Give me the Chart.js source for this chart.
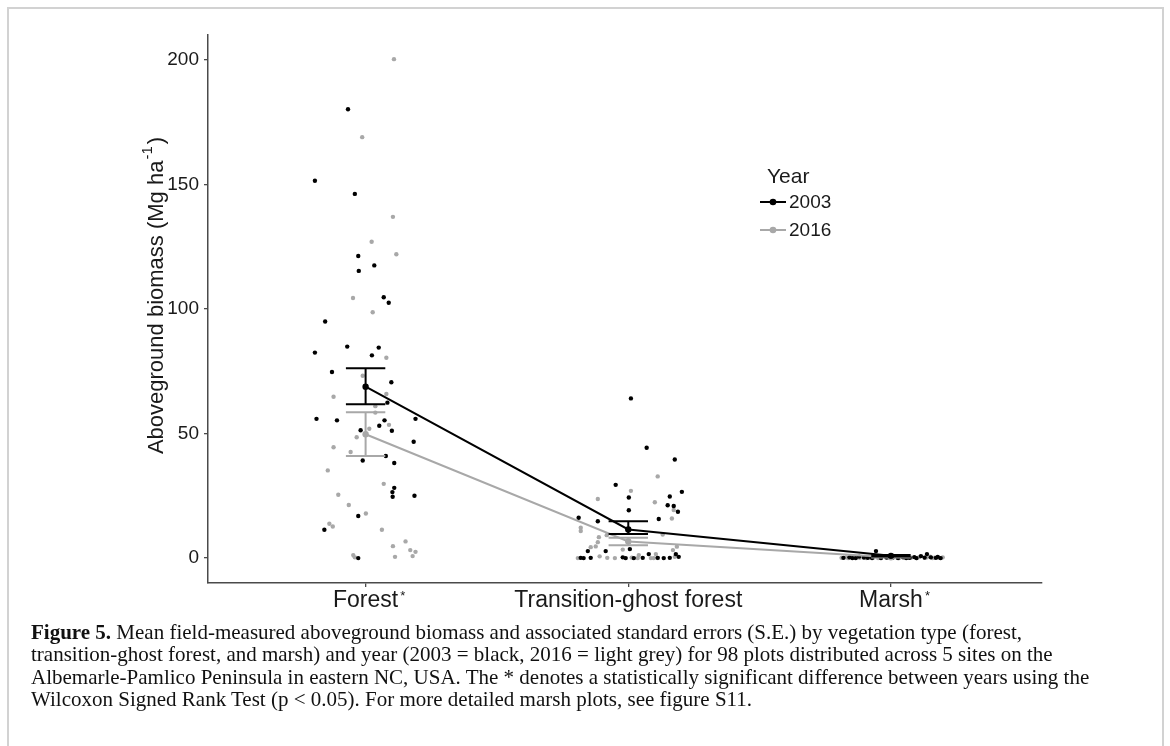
<!DOCTYPE html>
<html>
<head>
<meta charset="utf-8">
<script src="https://cdn.jsdelivr.net/npm/chart.js@4.4.1/dist/chart.umd.min.js"></script>
<style>
  html, body { margin: 0; padding: 0; background: #ffffff; }
  #page { position: relative; width: 1170px; height: 746px; overflow: hidden; background: #fff; }
  #frame { position: absolute; left: 7px; top: 7px; width: 1153px; height: 780px; border: 2px solid #d2d2d2; box-sizing: content-box; }
  #wrap { position: absolute; left: 0; top: 0; width: 1170px; height: 625px; }
  #caption {
    position: absolute; left: 31px; top: 621px; white-space: nowrap;
    font-family: "Liberation Serif", "Times New Roman", serif;
    font-size: 21px; line-height: 22.3px; color: #111;
  }
</style>
</head>
<body>
<div id="page">
  <div id="frame"></div>
  <div id="wrap"><canvas id="chart" width="1170" height="625"></canvas></div>
  <div id="caption">
    <b>Figure 5.</b> Mean field-measured aboveground biomass and associated standard errors (S.E.) by vegetation type (forest,<br>
    transition-ghost forest, and marsh) and year (2003 = black, 2016 = light grey) for 98 plots distributed across 5 sites on the<br>
    Albemarle-Pamlico Peninsula in eastern NC, USA. The * denotes a statistically significant difference between years using the<br>
    Wilcoxon Signed Rank Test (p &lt; 0.05). For more detailed marsh plots, see figure S11.
  </div>
</div>
<script>
// Vegetation types along the x axis; true where the years differ significantly
const categories = ['Forest', 'Transition-ghost forest', 'Marsh'];
const significant = [true, false, true];
const years = ['2003', '2016'];
const yTicks = [0, 50, 100, 150, 200];

// Plot-level aboveground biomass: [jitter offset from category centre, Mg ha-1]
const forest2003 = [
  [-0.067,180.2],[-0.193,151.5],[-0.041,146.2],[-0.028,121.3],[0.033,117.5],[-0.026,115.3],
  [0.069,104.7],[0.088,102.5],[-0.154,95.0],[-0.070,84.9],[-0.193,82.5],[0.050,84.5],
  [0.024,81.4],[-0.128,74.7],[0.098,70.6],[0.083,62.4],[-0.187,55.9],[-0.109,55.3],
  [0.072,55.3],[0.052,53.1],[0.190,55.9],[-0.019,51.3],[0.100,51.1],[0.183,46.7],
  [0.077,41.0],[-0.011,39.2],[0.109,38.2],[0.109,28.2],[0.102,26.5],[0.103,24.6],
  [0.186,25.0],[-0.028,16.9],[-0.157,11.4],[-0.028,0.0]
];
const forest2016 = [
  [0.108,200.3],[-0.013,169.0],[0.104,137.0],[0.023,127.0],[0.117,122.0],[-0.048,104.4],
  [0.027,98.7],[0.079,80.4],[-0.011,73.2],[-0.122,64.8],[0.079,65.9],[0.037,61.0],
  [0.037,58.4],[0.089,53.5],[0.014,51.9],[-0.034,48.5],[-0.122,44.5],[-0.057,42.6],
  [-0.144,35.2],[0.069,29.8],[-0.104,25.4],[-0.064,21.3],[0.001,17.9],[-0.138,13.8],
  [-0.125,12.7],[0.062,11.4],[0.152,6.7],[0.104,4.8],[0.170,3.2],[0.190,2.5],
  [0.179,0.8],[0.112,0.5],[-0.047,1.2],[-0.041,0.3]
];
const transition2003 = [
  [0.010,64.1],[0.070,44.3],[0.177,39.6],[-0.048,29.4],[0.204,26.6],[0.158,24.7],
  [0.002,24.3],[0.150,21.2],[0.173,20.9],[0.189,18.6],[0.002,19.2],[0.116,15.7],
  [-0.189,16.2],[-0.116,14.8],[-0.154,2.8],[-0.086,2.8],[0.006,3.6],[0.181,1.6],
  [0.192,0.5],[0.078,1.6],[-0.181,0.1],[-0.170,0.0],[-0.143,0.1],[-0.021,0.3],
  [-0.010,0.0],[0.021,0.0],[0.055,0.1],[0.112,0.1],[0.135,0.0],[0.158,0.1]
];
const transition2016 = [
  [0.010,27.0],[0.112,32.8],[-0.116,23.7],[0.101,22.4],[0.173,19.3],[0.166,15.9],
  [-0.181,12.2],[-0.181,10.9],[-0.082,9.2],[-0.112,8.4],[-0.116,6.4],[-0.124,4.7],
  [-0.143,4.4],[0.131,9.5],[-0.021,3.4],[0.170,3.2],[0.185,4.6],[0.177,0.5],
  [-0.109,0.7],[-0.192,0.0],[-0.080,0.1],[-0.051,0.0],[0.013,0.2],[0.036,0.0],
  [0.086,0.0],[0.097,0.0],[0.112,0.0],[0.105,1.6],[0.040,1.2]
];
const marsh2003 = [
  [-0.181,0.1],[-0.158,0.3],[-0.134,0.0],[-0.103,0.2],[-0.088,0.1],[-0.057,2.8],
  [-0.038,0.0],[-0.017,0.2],[0.006,0.1],[0.027,0.0],[0.046,0.3],[0.071,0.1],
  [0.089,0.4],[0.114,0.8],[0.137,1.6],[0.152,0.3],[0.171,0.1],[0.189,0.0],
  [-0.147,0.0],[-0.072,0.0],[-0.008,0.4],[0.058,0.0],[0.128,0.2],[0.178,0.5],
  [-0.121,0.6],[0.097,0.0]
];
const marsh2016 = [
  [-0.188,0.1],[-0.171,0.3],[-0.163,0.0],[-0.142,0.2],[-0.127,0.4],[-0.119,0.1],
  [-0.094,0.0],[-0.081,0.3],[-0.066,0.2],[-0.049,0.0],[-0.043,0.1],[-0.021,0.5],
  [-0.012,0.2],[0.003,0.6],[0.024,0.1],[0.031,0.0],[0.052,0.3],[0.068,0.1],
  [0.077,0.2],[0.099,0.0],[0.108,0.4],[0.129,0.1],[0.137,0.3],[0.158,0.0],
  [0.166,0.2],[0.183,0.1],[0.197,0.3],[-0.152,0.5],[0.061,0.5],[0.149,0.6]
];

// Means and standard-error limits per vegetation type
const mean2003   = [68.8, 11.5, 0.9];
const seLow2003  = [61.8, 9.7, 0.6];
const seHigh2003 = [76.2, 14.8, 1.2];
const mean2016   = [49.7, 6.7, 0.3];
const seLow2016  = [41.0, 5.2, 0.2];
const seHigh2016 = [58.5, 8.2, 0.4];

const BLACK = '#000000';
const GREY = '#a8a8a8';
const CAP = 0.075;            // half width of the error-bar caps, in category units
const SANS = "'Liberation Sans', Arial, Helvetica, sans-serif";
const LABEL_SIZE = 23;

function toPoints(groups) {
  const out = [];
  groups.forEach((g, i) => g.forEach(([dx, v]) => out.push({ x: i + 1 + dx, y: v })));
  return out;
}
function meanPoints(means) {
  return means.map((m, i) => ({ x: i + 1, y: m }));
}
// Error bars as broken polylines: top cap, stem, bottom cap for each category
function errorBarPoints(lo, hi) {
  const out = [];
  lo.forEach((l, i) => {
    const c = i + 1, h = hi[i];
    out.push({ x: c - CAP, y: h }, { x: c + CAP, y: h }, { x: c, y: null },
             { x: c, y: h }, { x: c, y: l }, { x: c, y: null },
             { x: c - CAP, y: l }, { x: c + CAP, y: l }, { x: c, y: null });
  });
  return out;
}

const decorations = {
  id: 'decorations',
  afterDraw(chart) {
    const ctx = chart.ctx;
    const xs = chart.scales.x;

    // superscript asterisks after the significant category labels
    ctx.save();
    ctx.fillStyle = '#1a1a1a';
    categories.forEach((c, i) => {
      if (!significant[i]) return;
      ctx.font = LABEL_SIZE + 'px ' + SANS;
      const w = ctx.measureText(c).width;
      const px = xs.getPixelForValue(i + 1);
      ctx.font = '13px ' + SANS;
      ctx.textBaseline = 'top';
      ctx.textAlign = 'left';
      ctx.fillText('*', px + w / 2 + 2, xs.top + 7);
    });
    ctx.restore();

    // y-axis title with superscript unit exponent
    ctx.save();
    ctx.translate(163, 296);
    ctx.rotate(-Math.PI / 2);
    ctx.fillStyle = '#1a1a1a';
    const main = 'Aboveground biomass (Mg ha';
    const sup = '-1';
    ctx.font = '22px ' + SANS;
    const wMain = ctx.measureText(main).width;
    const wClose = ctx.measureText(')').width;
    ctx.font = '15px ' + SANS;
    const wSup = ctx.measureText(sup).width;
    let x0 = -(wMain + wSup + wClose + 2) / 2;
    ctx.textBaseline = 'alphabetic';
    ctx.textAlign = 'left';
    ctx.font = '22px ' + SANS;
    ctx.fillText(main, x0, 0);
    ctx.font = '15px ' + SANS;
    ctx.fillText(sup, x0 + wMain + 1, -11);
    ctx.font = '22px ' + SANS;
    ctx.fillText(')', x0 + wMain + wSup + 3, 0);
    ctx.restore();

    // legend
    ctx.save();
    ctx.fillStyle = '#1a1a1a';
    ctx.font = '21px ' + SANS;
    ctx.textBaseline = 'alphabetic';
    ctx.textAlign = 'left';
    ctx.fillText('Year', 767, 183);
    [BLACK, GREY].forEach((col, k) => {
      const y = 202 + k * 28;
      ctx.strokeStyle = col;
      ctx.lineWidth = 2;
      ctx.beginPath();
      ctx.moveTo(760, y);
      ctx.lineTo(786, y);
      ctx.stroke();
      ctx.fillStyle = col;
      ctx.beginPath();
      ctx.arc(773, y, 3.3, 0, Math.PI * 2);
      ctx.fill();
      ctx.fillStyle = '#1a1a1a';
      ctx.font = '19px ' + SANS;
      ctx.textBaseline = 'middle';
      ctx.fillText(years[k], 789, y + 1);
    });
    ctx.restore();
  }
};

Chart.defaults.font.family = SANS;

new Chart(document.getElementById('chart'), {
  type: 'scatter',
  data: {
    datasets: [
      { label: years[1] + ' plots', data: toPoints([forest2016, transition2016, marsh2016]),
        backgroundColor: GREY, borderWidth: 0, pointRadius: 2.2, order: 6 },
      { label: years[0] + ' plots', data: toPoints([forest2003, transition2003, marsh2003]),
        backgroundColor: BLACK, borderWidth: 0, pointRadius: 2.2, order: 5 },
      { label: years[1] + ' S.E.', data: errorBarPoints(seLow2016, seHigh2016), showLine: true,
        spanGaps: false, borderColor: GREY, borderWidth: 2, pointRadius: 0, order: 4 },
      { label: years[1] + ' mean', data: meanPoints(mean2016), showLine: true,
        borderColor: GREY, borderWidth: 2, backgroundColor: GREY, pointRadius: 3.2, pointBorderWidth: 0, order: 3 },
      { label: years[0] + ' S.E.', data: errorBarPoints(seLow2003, seHigh2003), showLine: true,
        spanGaps: false, borderColor: BLACK, borderWidth: 2, pointRadius: 0, order: 2 },
      { label: years[0] + ' mean', data: meanPoints(mean2003), showLine: true,
        borderColor: BLACK, borderWidth: 2, backgroundColor: BLACK, pointRadius: 3.2, pointBorderWidth: 0, order: 1 }
    ]
  },
  options: {
    responsive: false,
    animation: false,
    layout: { padding: { top: 35, right: 128, left: 0, bottom: 0 } },
    plugins: { legend: { display: false }, tooltip: { enabled: false } },
    scales: {
      x: {
        type: 'linear', min: 0.4, max: 3.575,
        afterBuildTicks: s => { s.ticks = categories.map((c, i) => ({ value: i + 1 })); },
        afterFit: s => { s.height = 42; },
        ticks: {
          callback: v => categories[Math.round(v) - 1],
          font: { size: LABEL_SIZE }, color: '#1a1a1a', padding: 0, autoSkip: false, maxRotation: 0
        },
        grid: { drawOnChartArea: false, drawTicks: true, tickLength: 4, color: '#4a4a4a', lineWidth: 1.3 },
        border: { display: true, color: '#4a4a4a', width: 1.5 }
      },
      y: {
        type: 'linear', min: -10, max: 210,
        afterBuildTicks: s => { s.ticks = yTicks.map(v => ({ value: v })); },
        afterFit: s => { s.width = 208; },
        ticks: { font: { size: 19 }, color: '#1a1a1a', padding: 5 },
        grid: { drawOnChartArea: false, drawTicks: true, tickLength: 4, color: '#4a4a4a', lineWidth: 1.3 },
        border: { display: true, color: '#4a4a4a', width: 1.5 }
      }
    }
  },
  plugins: [decorations]
});
</script>
</body>
</html>
